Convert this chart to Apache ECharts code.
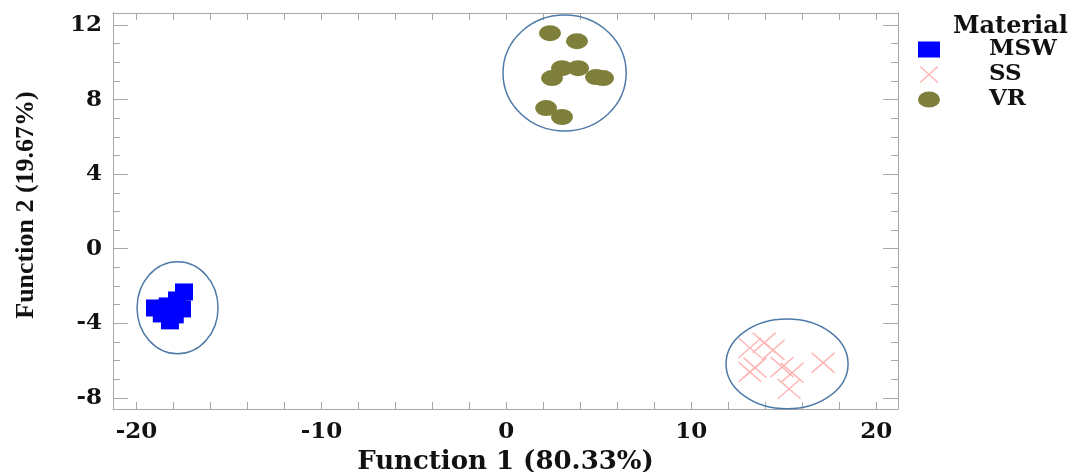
<!DOCTYPE html>
<html>
<head>
<meta charset="utf-8">
<script src="https://cdn.jsdelivr.net/npm/echarts@6/dist/echarts.min.js"></script>
<style>
html,body{margin:0;padding:0;background:#fff;}
#chart{width:1078px;height:472px;}
</style>
</head>
<body>
<div id="chart"></div>
<script>
// ---- data ----
const seriesNames = ['MSW', 'SS', 'VR'];
const mswX = [-17.43, -17.81, -19.00, -18.31, -18.19, -17.54, -18.63, -17.93];
const mswY = [-2.32, -2.75, -3.18, -3.07, -3.87, -3.23, -3.50, -3.55];
const ssX = [13.17, 13.94, 14.42, 13.45, 13.17, 14.91, 15.45, 15.29, 17.13];
const ssY = [-5.32, -5.05, -5.43, -6.39, -6.61, -6.34, -6.66, -7.52, -6.12];
const vrX = [2.36, 3.82, 3.01, 3.88, 2.47, 4.85, 5.23, 2.15, 3.01];
const vrY = [11.57, 11.14, 9.69, 9.69, 9.16, 9.21, 9.16, 7.55, 7.07];
// group enclosing ellipses (centre x, centre y, radius x, radius y in data units)
const ellipseCX = [-17.78, 15.18, 3.15];
const ellipseCY = [-3.17, -6.18, 9.43];
const ellipseRX = [2.19, 3.30, 3.33];
const ellipseRY = [2.47, 2.41, 3.11];
const xTickLabels = [-20, -10, 0, 10, 20];
const xMinorTicks = [-20, -18, -16, -14, -12, -10, -8, -6, -4, -2, 0, 2, 4, 6, 8, 10, 12, 14, 16, 18, 20];
const yTickLabels = [-8, -4, 0, 4, 8, 12];
const yMinorTicks = [-8, -7, -6, -5, -4, -3, -2, -1, 0, 1, 2, 3, 4, 5, 6, 7, 8, 9, 10, 11, 12];
const xTitle = 'Function 1 (80.33%)';
const yTitle = 'Function 2 (19.67%)';
const legendTitle = 'Material';

const zip = (a, b) => a.map((v, i) => [v, b[i]]);
const ellipseData = ellipseCX.map((v, i) => [v, ellipseCY[i], ellipseRX[i], ellipseRY[i]]);

const XMIN = -21.27, XMAX = 21.18, YMIN = -8.6, YMAX = 12.65;
const frameColor = '#a8a8a8';
const serif = '"DejaVu Serif", serif';
const crossPath = 'path://M0,0L22,20M22,0L0,20';
const ellipsePath = 'path://M0,8A11,8 0 1,0 22,8A11,8 0 1,0 0,8Z';

function xAxisDef(pos, withLabels) {
  return {
    type: 'value', position: pos, min: XMIN, max: XMAX,
    name: withLabels ? xTitle : '', nameLocation: 'middle', nameGap: 40,
    nameTextStyle: {fontFamily: serif, fontWeight: 'bold', fontSize: 26, color: '#111'},
    axisLine: {show: true, onZero: false, lineStyle: {color: frameColor, width: 1}},
    axisTick: {show: true, inside: true, length: 7, customValues: xMinorTicks, lineStyle: {color: frameColor}},
    axisLabel: {show: withLabels, customValues: xTickLabels, margin: 12,
      fontFamily: serif, fontWeight: 'bold', fontSize: 23, color: '#111'},
    splitLine: {show: false}
  };
}
function yAxisDef(pos, withLabels, major) {
  return {
    type: 'value', position: pos, min: YMIN, max: YMAX,
    name: withLabels ? yTitle : '', nameLocation: 'middle', nameGap: 74, nameRotate: 90,
    nameTextStyle: {fontFamily: '"Liberation Serif", serif', fontWeight: 'bold', fontSize: 26, color: '#111', padding: [0, 0, 0, 12]},
    axisLine: {show: true, onZero: false, lineStyle: {color: frameColor, width: 1}},
    axisTick: {show: true, inside: true, length: major ? 15 : 7, customValues: major ? yTickLabels : yMinorTicks, lineStyle: {color: frameColor}},
    axisLabel: {show: withLabels, customValues: yTickLabels, margin: 11,
      fontFamily: serif, fontWeight: 'bold', fontSize: 23, color: '#111'},
    splitLine: {show: false}
  };
}

const chart = echarts.init(document.getElementById('chart'), null, {renderer: 'canvas'});
chart.setOption({
  animation: false,
  backgroundColor: '#fff',
  grid: {left: 113, right: 180, top: 13, bottom: 63, outerBoundsMode: 'none', containLabel: false},
  title: {text: legendTitle, left: 948, top: 10,
    textStyle: {fontFamily: serif, fontWeight: 'bold', fontSize: 24, color: '#111'}},
  legend: {
    orient: 'vertical', left: 913, top: 33, itemWidth: 22, itemHeight: 16, itemGap: 2,
    data: [
      {name: 'MSW', icon: 'rect'},
      {name: 'SS', icon: crossPath, itemStyle: {color: 'transparent', borderColor: '#ffb4b4', borderWidth: 1.5}},
      {name: 'VR', icon: ellipsePath}
    ],
    textStyle: {fontFamily: serif, fontWeight: 'bold', fontSize: 23, color: '#111', padding: [0, 0, 0, 44]}
  },
  xAxis: [xAxisDef('bottom', true), xAxisDef('top', false)],
  yAxis: [yAxisDef('left', true, true), yAxisDef('left', false, false), yAxisDef('right', false, true), yAxisDef('right', false, false)],
  series: [
    {
      type: 'custom', name: 'groups', xAxisIndex: 0, yAxisIndex: 0, silent: true, z: 1,
      encode: {x: 0, y: 1},
      data: ellipseData,
      renderItem: function (params, api) {
        const c = api.coord([api.value(0), api.value(1)]);
        const s = api.size([api.value(2), api.value(3)]);
        return {type: 'ellipse', shape: {cx: c[0], cy: c[1], rx: s[0], ry: s[1]},
          style: {fill: 'none', stroke: '#4d7aa8', lineWidth: 1.5}};
      }
    },
    {
      type: 'scatter', name: 'MSW', xAxisIndex: 0, yAxisIndex: 0, z: 3,
      symbol: 'rect', symbolSize: [18, 17],
      itemStyle: {color: '#0000ff', opacity: 1},
      data: zip(mswX, mswY)
    },
    {
      type: 'scatter', name: 'SS', xAxisIndex: 0, yAxisIndex: 0, z: 3,
      symbol: crossPath, symbolSize: [23, 20],
      itemStyle: {color: 'transparent', borderColor: '#ffb4b4', borderWidth: 1.5, opacity: 1},
      data: zip(ssX, ssY)
    },
    {
      type: 'scatter', name: 'VR', xAxisIndex: 0, yAxisIndex: 0, z: 3,
      symbol: ellipsePath, symbolSize: [22, 16],
      itemStyle: {color: '#7f7f3c', opacity: 1},
      data: zip(vrX, vrY)
    }
  ]
});
</script>
</body>
</html>
